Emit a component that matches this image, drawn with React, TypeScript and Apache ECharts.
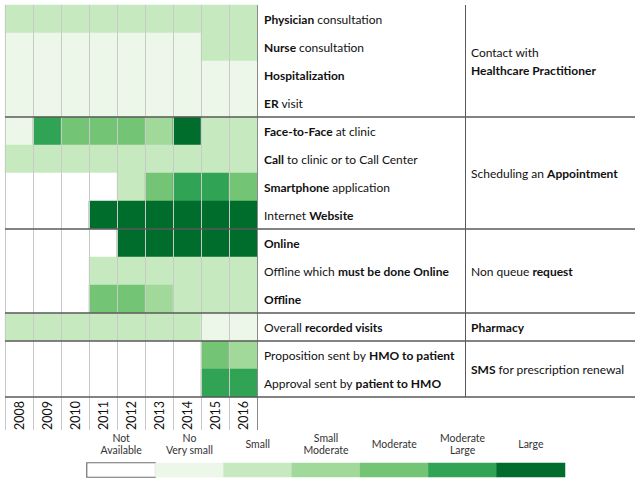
import React, { useEffect, useRef } from "react";
import * as echarts from "echarts";

const years = ["2008", "2009", "2010", "2011", "2012", "2013", "2014", "2015", "2016"];

const rowLabels = [
  "{b|Physician} consultation",
  "{b|Nurse} consultation",
  "{b|Hospitalization}",
  "{b|ER} visit",
  "{b|Face-to-Face} at clinic",
  "{b|Call} to clinic or to Call Center",
  "{b|Smartphone} application",
  "Internet {b|Website}",
  "{b|Online}",
  "Offline which {b|must be done Online}",
  "{b|Offline}",
  "Overall {b|recorded visits}",
  "Proposition sent by {b|HMO to patient}",
  "Approval sent by {b|patient to HMO}",
];

// level per row, 2008..2016 (0 = not available ... 6 = large)
const physician = [2, 2, 2, 2, 2, 2, 2, 2, 2];
const nurse = [1, 1, 1, 1, 1, 1, 1, 2, 2];
const hospitalization = [1, 1, 1, 1, 1, 1, 1, 1, 1];
const erVisit = [1, 1, 1, 1, 1, 1, 1, 1, 1];
const faceToFace = [1, 5, 4, 4, 4, 3, 6, 2, 2];
const callClinic = [2, 2, 2, 2, 2, 2, 2, 2, 2];
const smartphone = [0, 0, 0, 0, 2, 4, 5, 5, 4];
const website = [0, 0, 0, 6, 6, 6, 6, 6, 6];
const online = [0, 0, 0, 0, 6, 6, 6, 6, 6];
const offlineMustOnline = [0, 0, 0, 2, 2, 2, 2, 2, 2];
const offline = [0, 0, 0, 4, 4, 3, 2, 2, 2];
const pharmacyVisits = [2, 2, 2, 2, 2, 2, 2, 1, 1];
const smsProposition = [0, 0, 0, 0, 0, 0, 0, 4, 3];
const smsApproval = [0, 0, 0, 0, 0, 0, 0, 5, 5];

const rows = [
  physician, nurse, hospitalization, erVisit,
  faceToFace, callClinic, smartphone, website,
  online, offlineMustOnline, offline,
  pharmacyVisits,
  smsProposition, smsApproval,
];

const groupLabels = [
  "Contact with\n{b|Healthcare Practitioner}",
  "Scheduling an {b|Appointment}",
  "Non queue {b|request}",
  "{b|Pharmacy}",
  "{b|SMS} for prescription renewal",
];
const groupSizes = [4, 4, 3, 1, 2];

const levelNames = ["Not\nAvailable", "No\nVery small", "Small", "Small\nModerate", "Moderate", "Moderate\nLarge", "Large"];
const levelColors = ["#ffffff", "#edf7e9", "#c7e9c0", "#a1d99b", "#74c476", "#31a354", "#006d2c"];

const FONT = "Lato, 'Liberation Sans', sans-serif";

export default function App() {
  const ref = useRef<HTMLDivElement>(null);
  useEffect(() => {
    document.body.style.margin = "0";
    const chart = echarts.init(ref.current!, null, { renderer: "svg" });

    const GL = 5, GT = 5, CW = 28, CH = 28;
    const nC = years.length, nR = rowLabels.length;
    const gridR = GL + CW * nC; // 257
    const gridB = GT + CH * nR; // 397
    const labelColR = 465;
    const rightEdge = 635;
    const yearBottom = 430;

    const heatData: number[][] = [];
    rows.forEach((r, ri) => r.forEach((v, ci) => heatData.push([ci, ri, v])));

    const graphics: any[] = [];
    for (let i = 0; i < nC; i++) {
      const x = GL + i * CW + 0.5;
      graphics.push({
        type: "line", z: 10, silent: true,
        shape: { x1: x, y1: GT, x2: x, y2: yearBottom },
        style: { stroke: "#c9c9c9", lineWidth: 1 },
      });
    }
    graphics.push({
      type: "line", z: 10, silent: true,
      shape: { x1: gridR + 0.5, y1: GT, x2: gridR + 0.5, y2: yearBottom },
      style: { stroke: "#8a8a8a", lineWidth: 1 },
    });
    graphics.push({
      type: "line", z: 10, silent: true,
      shape: { x1: labelColR + 0.5, y1: GT, x2: labelColR + 0.5, y2: gridB },
      style: { stroke: "#595959", lineWidth: 1 },
    });
    let start = 0;
    groupSizes.forEach((n, gi) => {
      const yEnd = GT + (start + n) * CH;
      graphics.push({
        type: "line", z: 11, silent: true,
        shape: { x1: GL, y1: yEnd, x2: rightEdge, y2: yEnd },
        style: { stroke: "#5a5a5a", lineWidth: 1.5 },
      });
      graphics.push({
        type: "text", z: 11, silent: true,
        x: labelColR + 6,
        y: GT + (start + n / 2) * CH,
        style: {
          text: groupLabels[gi],
          fill: "#111",
          fontFamily: FONT,
          fontSize: 12,
          lineHeight: 18,
          verticalAlign: "middle",
          align: "left",
          rich: { b: { fontWeight: "bold", fontFamily: FONT, fontSize: 12, lineHeight: 18 } },
        },
      });
      start += n;
    });

    const option: any = {
      animation: false,
      grid: [
        { left: GL, top: GT, width: CW * nC, height: CH * nR },
        { left: 87, top: 463, width: 478, height: 14 },
      ],
      xAxis: [
        {
          gridIndex: 0, type: "category", data: years, position: "bottom",
          axisLine: { show: false }, axisTick: { show: false }, splitLine: { show: false },
          axisLabel: { rotate: 90, margin: 4, fontSize: 12.5, fontFamily: FONT, color: "#111", interval: 0 },
        },
        {
          gridIndex: 1, type: "category", data: levelNames, position: "top",
          axisLine: { show: false }, axisTick: { show: false }, splitLine: { show: false },
          axisLabel: {
            margin: 19, fontSize: 10.5, lineHeight: 12, fontFamily: FONT, color: "#333",
            interval: 0, verticalAlign: "middle",
          },
        },
      ],
      yAxis: [
        {
          gridIndex: 0, type: "category", data: rowLabels, inverse: true, show: false,
        },
        {
          gridIndex: 0, type: "category", data: rowLabels, inverse: true, position: "right",
          axisLine: { show: false }, axisTick: { show: false }, splitLine: { show: false },
          axisLabel: {
            margin: 7, fontSize: 12, fontFamily: FONT, color: "#111", interval: 0,
            rich: { b: { fontWeight: "bold", fontSize: 12, fontFamily: FONT, color: "#111" } },
          },
        },
        { gridIndex: 1, type: "category", data: [""], show: false },
      ],
      visualMap: {
        type: "piecewise", show: false, dimension: 2, seriesIndex: [0, 1],
        pieces: levelColors.map((c, i) => ({ value: i, color: c })),
      },
      series: [
        {
          type: "heatmap", xAxisIndex: 0, yAxisIndex: 0, data: heatData,
          itemStyle: { borderWidth: 0 }, emphasis: { disabled: true }, silent: true,
        },
        {
          type: "heatmap", xAxisIndex: 1, yAxisIndex: 2,
          data: levelNames.map((_, i) => ({
            value: [i, 0, i],
            itemStyle: i === 0 ? { borderColor: "#6f6f6f", borderWidth: 1.2 } : { borderWidth: 0 },
          })),
          emphasis: { disabled: true }, silent: true,
        },
      ],
      graphic: graphics,
    };
    chart.setOption(option);
    return () => chart.dispose();
  }, []);
  return <div ref={ref} style={{ width: 640, height: 480 }} />;
}
